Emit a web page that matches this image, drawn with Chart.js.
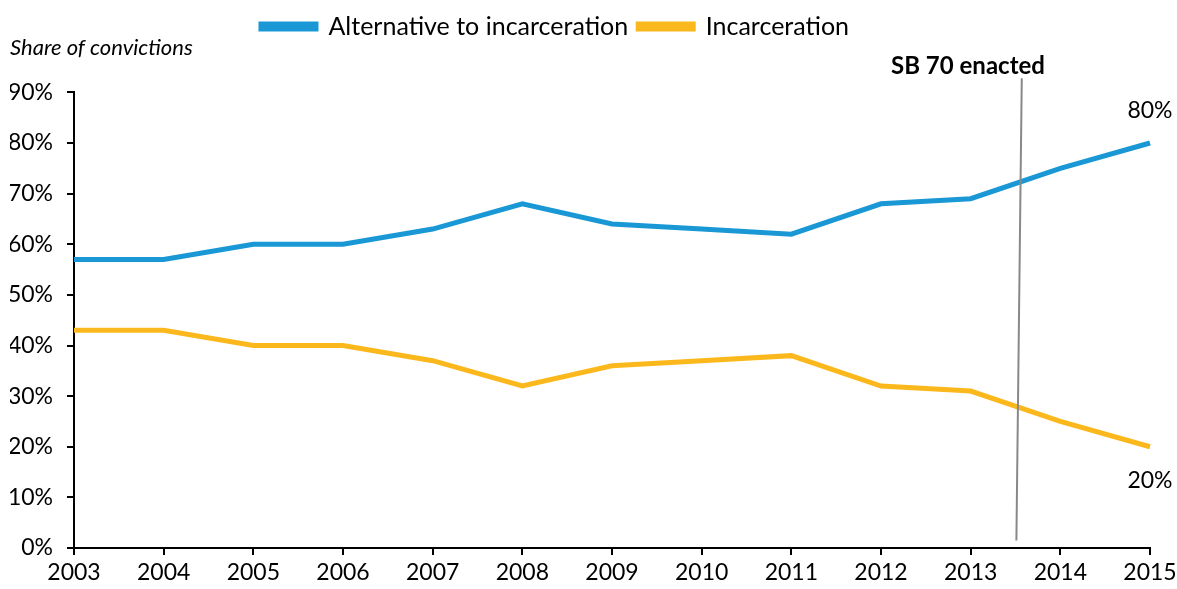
<!DOCTYPE html>
<html>
<head>
<meta charset="utf-8">
<script src="https://cdn.jsdelivr.net/npm/chart.js@4"></script>
<style>
html,body{margin:0;padding:0;background:#fff;}
#wrap{width:1177px;height:589px;position:relative;}
</style>
</head>
<body>
<div id="wrap"><canvas id="c" width="1177" height="589"></canvas></div>
<script>
const years = ['2003','2004','2005','2006','2007','2008','2009','2010','2011','2012','2013','2014','2015'];
const alternative = [57,57,60,60,63,68,64,63,62,68,69,75,80];
const incarceration = [43,43,40,40,37,32,36,37,38,32,31,25,20];
const yTicks = [0,10,20,30,40,50,60,70,80,90];
const seriesNames = ['Alternative to incarceration','Incarceration'];
const colors = ['#1a98d5','#fbb81c'];
const yAxisTitle = 'Share of convictions';
const eventLabel = 'SB 70 enacted';
const eventLine = {xTop: 10.57, yTop: 92.8, xBottom: 10.51, yBottom: 1.5};

const legendShift = {
  id:'legendShift',
  afterLayout(chart){
    if (chart.legend) { chart.legend.right -= 50; }
  }
};

const annot = {
  id:'annot',
  afterDraw(chart){
    const ctx = chart.ctx, xs = chart.scales.x, ys = chart.scales.y;
    ctx.save();
    ctx.strokeStyle = '#888888';
    ctx.lineWidth = 2;
    ctx.beginPath();
    ctx.moveTo(xs.getPixelForValue(eventLine.xTop), ys.getPixelForValue(eventLine.yTop));
    ctx.lineTo(xs.getPixelForValue(eventLine.xBottom), ys.getPixelForValue(eventLine.yBottom));
    ctx.stroke();
    ctx.fillStyle = '#000';
    ctx.font = 'bold 24px Lato';
    ctx.textAlign = 'center';
    ctx.textBaseline = 'middle';
    ctx.fillText(eventLabel, xs.getPixelForValue(9.97), ys.getPixelForValue(eventLine.yTop) - 12);
    ctx.font = '23px Lato';
    const last = years.length - 1;
    ctx.fillText(alternative[last] + '%', xs.getPixelForValue(last), ys.getPixelForValue(alternative[last]) - 32);
    ctx.fillText(incarceration[last] + '%', xs.getPixelForValue(last), ys.getPixelForValue(incarceration[last]) + 34);
    ctx.restore();
  }
};

new Chart(document.getElementById('c'), {
  type:'line',
  data:{
    labels: years,
    datasets:[
      {label: seriesNames[0], data: alternative, borderColor: colors[0], backgroundColor: colors[0], borderWidth:5, borderJoinStyle:'miter', pointRadius:0, tension:0},
      {label: seriesNames[1], data: incarceration, borderColor: colors[1], backgroundColor: colors[1], borderWidth:5, borderJoinStyle:'miter', pointRadius:0, tension:0}
    ]
  },
  options:{
    responsive:false,
    animation:false,
    layout:{padding:{left:10,right:27,top:4,bottom:0}},
    plugins:{
      legend:{
        display:true,
        position:'top',
        weight:3000,
        labels:{font:{family:'Lato',size:25},color:'#000',boxWidth:55,boxHeight:5,padding:10}
      },
      title:{
        display:true,
        text:yAxisTitle,
        align:'start',
        position:'top',
        weight:2000,
        color:'#000',
        font:{family:'Lato',size:22,style:'italic',weight:'normal'},
        padding:{top:-14,bottom:31}
      },
      tooltip:{enabled:false}
    },
    scales:{
      x:{
        offset:false,
        grid:{drawOnChartArea:false,color:'#000',lineWidth:2,tickLength:7},
        border:{color:'#000',width:2},
        ticks:{font:{family:'Lato',size:23},color:'#000',padding:4,maxRotation:0,autoSkip:false},
        afterFit(s){ s.height = 41; s.paddingLeft = 0; s.paddingRight = 0; }
      },
      y:{
        min:0,max:90,
        afterBuildTicks(s){ s.ticks = yTicks.map(v=>({value:v})); },
        grid:{drawOnChartArea:false,color:'#000',lineWidth:2,tickLength:7},
        border:{color:'#000',width:2},
        ticks:{font:{family:'Lato',size:23},color:'#000',padding:14,callback:v=>v+'%'},
        afterFit(s){ s.width = 64; }
      }
    }
  },
  plugins:[annot, legendShift]
});
</script>
</body>
</html>
